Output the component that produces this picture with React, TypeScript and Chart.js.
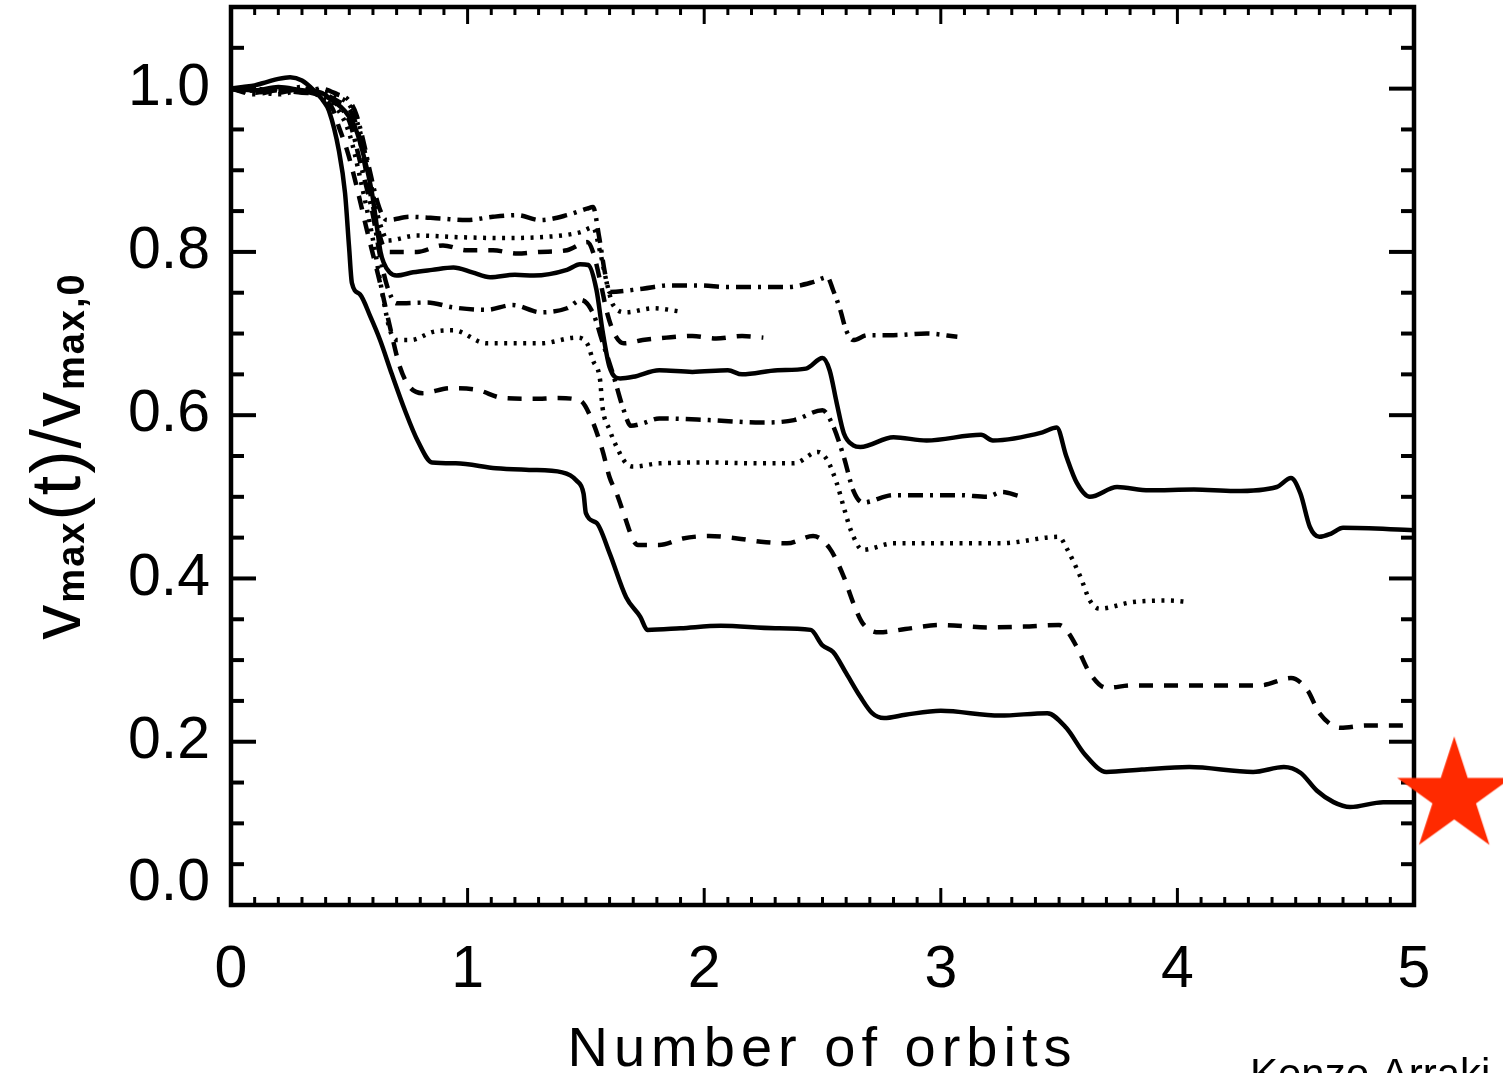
import React, { useEffect, useRef } from "react";
import { Chart, registerables } from "chart.js";

Chart.register(...registerables);

const FONT = "'Liberation Sans', Arial, sans-serif";

// Axis tick values
const xTickValues = [0, 1, 2, 3, 4, 5];
const yTickValues = [0, 0.2, 0.4, 0.6, 0.8, 1.0];

// Series (x = number of orbits, y = vmax(t)/vmax,0)
const solidLow: [number, number][] = [
  [0, 1.0], [0.05, 1.002], [0.1, 1.004], [0.15, 1.008], [0.2, 1.012], [0.25, 1.014], [0.3, 1.01],
  [0.35, 0.998], [0.39, 0.985], [0.414, 0.973], [0.456, 0.924], [0.482, 0.872], [0.499, 0.806],
  [0.511, 0.762], [0.545, 0.748], [0.59, 0.72], [0.63, 0.692], [0.68, 0.65], [0.735, 0.606],
  [0.79, 0.568], [0.85, 0.542], [0.95, 0.541], [1.12, 0.535], [1.26, 0.533], [1.4, 0.53],
  [1.46, 0.52], [1.49, 0.504], [1.5, 0.48], [1.545, 0.468], [1.6, 0.431], [1.67, 0.377],
  [1.73, 0.353], [1.76, 0.337], [1.9, 0.339], [2.07, 0.342], [2.3, 0.339], [2.45, 0.337],
  [2.5, 0.318], [2.545, 0.31], [2.6, 0.284], [2.66, 0.255], [2.71, 0.235], [2.76, 0.229],
  [2.85, 0.233], [3.0, 0.238], [3.25, 0.232], [3.45, 0.235], [3.53, 0.217], [3.61, 0.184],
  [3.7, 0.163], [3.85, 0.166], [4.05, 0.169], [4.32, 0.163], [4.45, 0.169], [4.52, 0.162],
  [4.59, 0.14], [4.66, 0.126], [4.73, 0.12], [4.87, 0.126], [5.0, 0.126],
];

const dashedLow: [number, number][] = [
  [0, 1.0], [0.1, 0.995], [0.2, 1.0], [0.3, 0.997], [0.38, 0.99], [0.43, 0.975], [0.456, 0.953],
  [0.49, 0.925], [0.52, 0.893], [0.545, 0.863], [0.575, 0.826], [0.6, 0.797], [0.63, 0.762],
  [0.672, 0.708], [0.714, 0.659], [0.757, 0.634], [0.81, 0.627], [0.926, 0.633], [1.04, 0.631],
  [1.15, 0.621], [1.28, 0.62], [1.38, 0.621], [1.475, 0.618], [1.52, 0.598], [1.57, 0.557],
  [1.6, 0.524], [1.63, 0.504], [1.665, 0.475], [1.7, 0.447], [1.72, 0.441], [1.81, 0.441],
  [1.91, 0.449], [2.02, 0.452], [2.14, 0.449], [2.24, 0.445], [2.35, 0.443], [2.46, 0.452],
  [2.53, 0.437], [2.59, 0.402], [2.63, 0.37], [2.67, 0.345], [2.74, 0.334], [2.85, 0.338],
  [3.0, 0.343], [3.2, 0.34], [3.35, 0.341], [3.5, 0.343], [3.53, 0.337], [3.575, 0.316],
  [3.63, 0.284], [3.7, 0.266], [3.81, 0.269], [4.04, 0.269], [4.35, 0.269], [4.48, 0.278],
  [4.55, 0.263], [4.6, 0.235], [4.69, 0.217], [4.8, 0.22], [4.97, 0.22],
];

const dottedLow: [number, number][] = [
  [0, 1.0], [0.1, 0.997], [0.2, 0.993], [0.3, 0.998], [0.38, 0.99], [0.45, 0.975], [0.5, 0.945],
  [0.55, 0.885], [0.6, 0.815], [0.63, 0.765], [0.655, 0.725], [0.672, 0.704], [0.7, 0.692],
  [0.76, 0.692], [0.854, 0.702], [0.94, 0.704], [1.08, 0.688], [1.31, 0.688], [1.46, 0.695],
  [1.505, 0.688], [1.53, 0.667], [1.56, 0.643], [1.57, 0.61], [1.6, 0.582], [1.63, 0.561],
  [1.67, 0.541], [1.7, 0.537], [1.81, 0.541], [2.02, 0.542], [2.24, 0.541], [2.38, 0.541],
  [2.48, 0.555], [2.52, 0.545], [2.56, 0.517], [2.59, 0.487], [2.62, 0.459], [2.67, 0.435],
  [2.8, 0.443], [3.08, 0.443], [3.25, 0.443], [3.5, 0.451], [3.53, 0.438], [3.59, 0.402],
  [3.63, 0.373], [3.67, 0.363], [3.81, 0.371], [3.96, 0.373], [4.05, 0.371],
];

const dashDotLow: [number, number][] = [
  [0, 1.0], [0.1, 0.993], [0.2, 0.998], [0.3, 0.995], [0.38, 0.993], [0.45, 0.98], [0.5, 0.96],
  [0.55, 0.905], [0.6, 0.845], [0.63, 0.795], [0.66, 0.758], [0.7, 0.737], [0.83, 0.738],
  [0.94, 0.732], [1.08, 0.729], [1.19, 0.735], [1.31, 0.726], [1.42, 0.731], [1.48, 0.741],
  [1.53, 0.725], [1.57, 0.69], [1.615, 0.65], [1.66, 0.606], [1.69, 0.587], [1.74, 0.59],
  [1.81, 0.596], [2.02, 0.594], [2.24, 0.591], [2.38, 0.594], [2.5, 0.606], [2.54, 0.59],
  [2.59, 0.549], [2.63, 0.508], [2.67, 0.493], [2.8, 0.502], [3.08, 0.502], [3.195, 0.5],
  [3.26, 0.506], [3.33, 0.501],
];

const solidHigh: [number, number][] = [
  [0, 1.0], [0.1, 0.998], [0.2, 1.002], [0.3, 0.998], [0.38, 0.995], [0.427, 0.986], [0.48, 0.973],
  [0.524, 0.953], [0.566, 0.912], [0.596, 0.872], [0.617, 0.83], [0.632, 0.8], [0.645, 0.787],
  [0.67, 0.775], [0.7, 0.771], [0.77, 0.775], [0.85, 0.778], [0.94, 0.781], [1.02, 0.775],
  [1.095, 0.769], [1.2, 0.772], [1.28, 0.771], [1.42, 0.778], [1.475, 0.785], [1.51, 0.784],
  [1.545, 0.753], [1.57, 0.704], [1.6, 0.659], [1.645, 0.645], [1.7, 0.647], [1.81, 0.655],
  [1.95, 0.653], [2.1, 0.655], [2.16, 0.65], [2.31, 0.655], [2.43, 0.657], [2.5, 0.67],
  [2.53, 0.655], [2.56, 0.615], [2.59, 0.578], [2.63, 0.563], [2.66, 0.561], [2.8, 0.573],
  [2.94, 0.569], [3.17, 0.576], [3.22, 0.569], [3.43, 0.579], [3.49, 0.585], [3.53, 0.55],
  [3.575, 0.517], [3.63, 0.5], [3.745, 0.512], [3.88, 0.508], [4.07, 0.509], [4.24, 0.507],
  [4.42, 0.512], [4.48, 0.523], [4.52, 0.504], [4.56, 0.463], [4.6, 0.451], [4.65, 0.455],
  [4.7, 0.462], [5.0, 0.459],
];

const dashedHigh: [number, number][] = [
  [0, 1.0], [0.1, 0.998], [0.2, 0.995], [0.3, 1.0], [0.38, 0.995], [0.45, 0.985], [0.5, 0.975],
  [0.53, 0.955], [0.56, 0.915], [0.59, 0.87], [0.62, 0.83], [0.645, 0.806], [0.672, 0.8],
  [0.786, 0.8], [0.896, 0.808], [0.997, 0.802], [1.107, 0.802], [1.21, 0.798], [1.306, 0.8],
  [1.42, 0.802], [1.505, 0.812], [1.53, 0.8], [1.56, 0.765], [1.59, 0.725], [1.62, 0.7],
  [1.66, 0.688], [1.74, 0.692], [1.84, 0.695], [1.95, 0.697], [2.05, 0.694], [2.16, 0.697],
  [2.25, 0.695],
];

const dottedHigh: [number, number][] = [
  [0, 1.0], [0.1, 1.0], [0.2, 0.997], [0.3, 1.002], [0.38, 0.997], [0.45, 0.99], [0.5, 0.98],
  [0.53, 0.962], [0.56, 0.93], [0.59, 0.885], [0.62, 0.845], [0.645, 0.822], [0.66, 0.814],
  [0.786, 0.82], [0.968, 0.818], [1.137, 0.817], [1.306, 0.818], [1.475, 0.824], [1.53, 0.83],
  [1.56, 0.8], [1.59, 0.76], [1.615, 0.735], [1.67, 0.726], [1.785, 0.731], [1.9, 0.727],
];

const dashDotHigh: [number, number][] = [
  [0, 1.0], [0.1, 0.995], [0.2, 1.0], [0.3, 0.996], [0.38, 1.0], [0.45, 0.993], [0.5, 0.985],
  [0.53, 0.968], [0.56, 0.935], [0.59, 0.895], [0.62, 0.86], [0.645, 0.842], [0.66, 0.839],
  [0.757, 0.843], [0.883, 0.841], [0.997, 0.839], [1.107, 0.843], [1.21, 0.845], [1.306, 0.839],
  [1.42, 0.845], [1.505, 0.853], [1.53, 0.855], [1.555, 0.82], [1.58, 0.775], [1.6, 0.751],
  [1.74, 0.755], [1.855, 0.759], [1.98, 0.759], [2.1, 0.757], [2.21, 0.757], [2.35, 0.757],
  [2.46, 0.763], [2.52, 0.769], [2.545, 0.753], [2.575, 0.729], [2.6, 0.704], [2.63, 0.692],
  [2.69, 0.698], [2.8, 0.698], [2.94, 0.7], [3.07, 0.696],
];

// Red star marker
const starPoint: [number, number][] = [[5.17, 0.133]];

const SOLID: number[] = [];
const DASHED = [14, 11];
const DOTTED = [3, 6.5];
const DASHDOT = [15, 7, 3, 7];

function makeStar(R: number, color: string): HTMLCanvasElement {
  const c = document.createElement("canvas");
  const size = Math.ceil(2 * R + 4);
  c.width = size;
  c.height = size;
  const g = c.getContext("2d")!;
  const cx = size / 2;
  const cy = size / 2;
  g.beginPath();
  for (let i = 0; i < 10; i++) {
    const ang = -Math.PI / 2 + (i * Math.PI) / 5;
    const r = i % 2 === 0 ? R : R * 0.382;
    const px = cx + r * Math.cos(ang);
    const py = cy + r * Math.sin(ang);
    if (i === 0) g.moveTo(px, py);
    else g.lineTo(px, py);
  }
  g.closePath();
  g.fillStyle = color;
  g.fill();
  return c;
}

export default function App() {
  const ref = useRef<HTMLCanvasElement>(null);

  useEffect(() => {
    const canvas = ref.current;
    if (!canvas) return;
    const star = makeStar(60, "#ff2a00");
    const toXY = (a: [number, number][]) => a.map(([x, y]) => ({ x, y }));

    const line = (data: [number, number][], dash: number[]) => ({
      data: toXY(data),
      borderColor: "#000",
      borderWidth: 4.5,
      borderDash: dash,
      borderCapStyle: "butt" as const,
      pointRadius: 0,
      fill: false,
      cubicInterpolationMode: "monotone" as const,
    });

    const framePlugin = {
      id: "idlFrame",
      beforeDatasetsDraw(chart: any) {
        const { ctx, chartArea: a, scales } = chart;
        const xs = scales.x;
        const ys = scales.y;
        ctx.save();
        ctx.strokeStyle = "#000";
        ctx.lineCap = "butt";
        const seg = (x1: number, y1: number, x2: number, y2: number) => {
          ctx.beginPath();
          ctx.moveTo(x1, y1);
          ctx.lineTo(x2, y2);
          ctx.stroke();
        };
        // x ticks (inward, bottom & top)
        ctx.lineWidth = 3;
        for (let i = 0; i <= 50; i++) {
          const px = xs.getPixelForValue(i / 10);
          const len = i % 10 === 0 ? 17 : 8;
          seg(px, a.bottom, px, a.bottom - len);
          seg(px, a.top, px, a.top + len);
        }
        // y ticks (inward, left & right)
        ctx.lineWidth = 4;
        for (let i = 0; i <= 22; i++) {
          const py = ys.getPixelForValue(i * 0.05);
          const len = i % 4 === 0 ? 25 : 13;
          seg(a.left, py, a.left + len, py);
          seg(a.right, py, a.right - len, py);
        }
        ctx.lineWidth = 4.5;
        ctx.strokeRect(a.left, a.top, a.right - a.left, a.bottom - a.top);
        ctx.restore();
      },
      afterDraw(chart: any) {
        const { ctx, chartArea: a } = chart;
        ctx.save();
        ctx.fillStyle = "#000";
        // X title
        ctx.font = `56px ${FONT}`;
        (ctx as any).letterSpacing = "6px";
        ctx.textAlign = "left";
        ctx.textBaseline = "alphabetic";
        const xt = "Number of orbits";
        const w = ctx.measureText(xt).width;
        ctx.fillText(xt, (a.left + a.right) / 2 - w / 2, 1066);

        // Y title (rotated, with subscripts)
        const parts = [
          { t: "v", sub: false },
          { t: "max", sub: true },
          { t: "(t)/v", sub: false },
          { t: "max,0", sub: true },
        ];
        const mainFont = `70px ${FONT}`;
        const subFont = `bold 38px ${FONT}`;
        (ctx as any).letterSpacing = "2px";
        let total = 0;
        const widths = parts.map((p) => {
          ctx.font = p.sub ? subFont : mainFont;
          const ww = ctx.measureText(p.t).width;
          total += ww;
          return ww;
        });
        ctx.translate(80, (a.top + a.bottom) / 2);
        ctx.rotate(-Math.PI / 2);
        let pos = -total / 2;
        parts.forEach((p, i) => {
          ctx.font = p.sub ? subFont : mainFont;
          ctx.fillText(p.t, pos, p.sub ? 4 : 0);
          pos += widths[i];
        });
        ctx.restore();

        // Credit
        ctx.save();
        ctx.fillStyle = "#000";
        ctx.font = `42px ${FONT}`;
        ctx.textAlign = "left";
        ctx.fillText("Kenzo Arraki", 1250, 1088);
        ctx.restore();
      },
    };

    const chart = new Chart(canvas, {
      type: "line",
      data: {
        datasets: [
          {
            data: toXY(starPoint),
            showLine: false,
            pointStyle: star as any,
            pointRadius: 62,
            clip: false as any,
            borderColor: "#ff2a00",
            backgroundColor: "#ff2a00",
          } as any,
          line(solidLow, SOLID),
          line(dashedLow, DASHED),
          line(dottedLow, DOTTED),
          line(dashDotLow, DASHDOT),
          line(solidHigh, SOLID),
          line(dashedHigh, DASHED),
          line(dottedHigh, DOTTED),
          line(dashDotHigh, DASHDOT),
        ],
      },
      options: {
        responsive: false,
        animation: false,
        events: [],
        layout: { autoPadding: false, padding: { left: 0, right: 89, top: 7, bottom: 0 } },
        plugins: {
          legend: { display: false },
          tooltip: { enabled: false },
          title: { display: false },
        },
        scales: {
          x: {
            type: "linear",
            min: 0,
            max: 5,
            grid: { display: false, drawTicks: false },
            border: { display: false },
            afterBuildTicks: (s: any) => {
              s.ticks = xTickValues.map((v) => ({ value: v }));
            },
            ticks: {
              color: "#000",
              padding: 30,
              maxRotation: 0,
              autoSkip: false,
              font: { family: FONT, size: 59 },
              callback: (v: any) => String(v),
            },
            afterFit: (s: any) => {
              s.height = 168;
              s.paddingLeft = 0;
              s.paddingRight = 0;
              s.paddingTop = 0;
              s.paddingBottom = 0;
            },
          },
          y: {
            type: "linear",
            min: 0,
            max: 1.1,
            grid: { display: false, drawTicks: false },
            border: { display: false },
            afterBuildTicks: (s: any) => {
              s.ticks = yTickValues.map((v) => ({ value: v }));
            },
            ticks: {
              color: "#000",
              padding: 21,
              autoSkip: false,
              font: { family: FONT, size: 59, lineHeight: 0.71 },
              callback: (v: any) => {
                const s = Number(v).toFixed(1);
                return Number(v) === 0 ? [s, ""] : s;
              },
            },
            afterFit: (s: any) => {
              s.width = 231;
              s.paddingLeft = 0;
              s.paddingRight = 0;
              s.paddingTop = 0;
              s.paddingBottom = 0;
            },
          },
        },
      } as any,
      plugins: [framePlugin],
    });

    return () => {
      chart.destroy();
    };
  }, []);

  return (
    <div style={{ position: "absolute", left: 0, top: 0, width: 1503, height: 1073, background: "#fff" }}>
      <canvas ref={ref} width={1503} height={1073} style={{ display: "block", width: 1503, height: 1073 }} />
    </div>
  );
}
